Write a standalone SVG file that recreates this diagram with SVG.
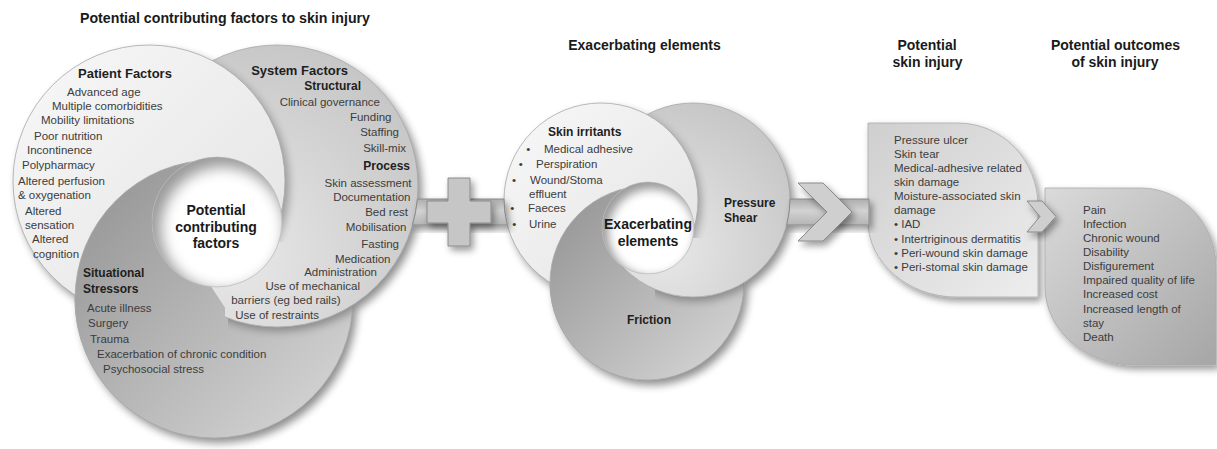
<svg xmlns="http://www.w3.org/2000/svg" width="1217" height="449" viewBox="0 0 1217 449">
<style>
text{font-family:"Liberation Sans",Arial,Helvetica,sans-serif;}
.t{font-size:11.5px;fill:#3c3c3c;}
.b{font-size:13px;font-weight:bold;fill:#1e1e1e;}
.s{font-size:12px;font-weight:bold;fill:#1e1e1e;}
.h{font-size:14px;font-weight:bold;fill:#1a1a1a;text-anchor:middle;}
.c{font-size:14px;font-weight:bold;fill:#1a1a1a;text-anchor:middle;}
.e{text-anchor:end;}
.m{text-anchor:middle;}
.ring{stroke:#a8a8a8;stroke-width:0.8;}
.leaf{stroke:#a9a9a9;stroke-width:0.8;}
.conn{stroke:#8a8a8a;stroke-width:1;}
.arcsh{fill:#000;opacity:0.3;}
</style>
<defs>
<filter id="sh" x="-20%" y="-20%" width="150%" height="150%"><feDropShadow dx="3" dy="4" stdDeviation="3.5" flood-color="#000" flood-opacity="0.4"/></filter>
<filter id="shOnly" x="-20%" y="-20%" width="150%" height="150%"><feGaussianBlur in="SourceAlpha" stdDeviation="4"/><feOffset dx="4" dy="5"/><feComponentTransfer><feFuncA type="linear" slope="0.45"/></feComponentTransfer></filter>
<filter id="soft" x="-20%" y="-20%" width="140%" height="140%"><feGaussianBlur stdDeviation="4"/></filter>
<filter id="blur" x="-30%" y="-30%" width="160%" height="160%"><feGaussianBlur stdDeviation="7"/></filter>
<filter id="blur2" x="-30%" y="-30%" width="160%" height="160%"><feGaussianBlur stdDeviation="5"/></filter>
<linearGradient id="gPat" x1="0" y1="0" x2="1" y2="1"><stop offset="0" stop-color="#f8f8f8"/><stop offset="1" stop-color="#e2e2e2"/></linearGradient>
<radialGradient id="gSys" cx="0.35" cy="0.75" r="0.8"><stop offset="0" stop-color="#e8e8e8"/><stop offset="1" stop-color="#c6c6c6"/></radialGradient>
<linearGradient id="gSit" x1="0.1" y1="0.1" x2="0.9" y2="0.9"><stop offset="0" stop-color="#989898"/><stop offset="1" stop-color="#d2d2d2"/></linearGradient>
<linearGradient id="gBand" gradientUnits="userSpaceOnUse" x1="0" y1="199" x2="0" y2="225"><stop offset="0" stop-color="#adadad"/><stop offset="0.45" stop-color="#d2d2d2"/><stop offset="1" stop-color="#b5b5b5"/></linearGradient>
<linearGradient id="gInj" x1="0" y1="0" x2="1" y2="1"><stop offset="0" stop-color="#cfcfcf"/><stop offset="1" stop-color="#ededed"/></linearGradient>
<linearGradient id="gOut" x1="0" y1="0" x2="1" y2="1"><stop offset="0" stop-color="#dadada"/><stop offset="1" stop-color="#a6a6a6"/></linearGradient>
<mask id="mA" maskUnits="userSpaceOnUse" x="0" y="0" width="1217" height="449"><rect x="0" y="0" width="225" height="449" fill="#fff"/></mask>
<mask id="mB" maskUnits="userSpaceOnUse" x="0" y="0" width="1217" height="449"><polygon points="187,250 440,250 440,449 318,449" fill="#fff"/></mask>
<mask id="mA2" maskUnits="userSpaceOnUse" x="0" y="0" width="1217" height="449"><rect x="400" y="0" width="252" height="449" fill="#fff"/></mask>
<mask id="mB2" maskUnits="userSpaceOnUse" x="0" y="0" width="1217" height="449"><polygon points="610,247 800,247 800,449 712,449" fill="#fff"/></mask>
<clipPath id="hL"><circle cx="217" cy="222" r="65"/></clipPath>
<clipPath id="hM"><circle cx="648" cy="228" r="46"/></clipPath>
<clipPath id="cSitL"><circle cx="214" cy="299" r="139"/></clipPath>
<clipPath id="cSysL"><circle cx="277" cy="186" r="141"/></clipPath>
<clipPath id="cTopL"><rect x="0" y="0" width="600" height="242"/></clipPath>
<clipPath id="cRightL"><rect x="228" y="0" width="400" height="449"/></clipPath>
<clipPath id="cFricM"><circle cx="647" cy="283" r="97"/></clipPath>
<clipPath id="cPresM"><circle cx="693" cy="200" r="97"/></clipPath>
<clipPath id="cTopM"><rect x="400" y="0" width="500" height="238"/></clipPath>
<clipPath id="cRightM"><rect x="655" y="0" width="300" height="449"/></clipPath>
</defs>
<rect x="0" y="0" width="1217" height="449" fill="#ffffff"/>

<text class="h" x="225" y="23" font-size="15" textLength="290" lengthAdjust="spacingAndGlyphs">Potential contributing factors to skin injury</text>
<text class="h" x="644.5" y="50">Exacerbating elements</text>
<text class="h" x="927" y="50">Potential</text>
<text class="h" x="927.5" y="67">skin injury</text>
<text class="h" x="1115.5" y="50">Potential outcomes</text>
<text class="h" x="1115" y="67">of skin injury</text>

<!-- left cluster -->
<g id="contributing-underlay">
<g filter="url(#shOnly)">
<circle cx="214" cy="299" r="139"/>
<circle cx="277" cy="186" r="141"/>
<circle cx="149" cy="181" r="136"/>
</g>
<circle class="ring" cx="214" cy="299" r="139" fill="url(#gSit)"/>
<g clip-path="url(#cSitL)"><g clip-path="url(#cRightL)"><circle class="arcsh" cx="280" cy="190" r="141" filter="url(#soft)"/></g></g>
<circle class="ring" cx="277" cy="186" r="141" fill="url(#gSys)"/>
<g clip-path="url(#cSysL)"><g clip-path="url(#cTopL)"><circle class="arcsh" cx="153" cy="186" r="136" filter="url(#soft)"/></g></g>
</g>
<g id="patient-factors">
<circle class="ring" cx="149" cy="181" r="136" fill="url(#gPat)"/>
<text class="b" x="78" y="78">Patient Factors</text>
<text class="t" x="67" y="96">Advanced age</text>
<text class="t" x="52" y="109.5">Multiple comorbidities</text>
<text class="t" x="41" y="123.5">Mobility limitations</text>
<text class="t" x="34" y="140">Poor nutrition</text>
<text class="t" x="27" y="154">Incontinence</text>
<text class="t" x="22" y="169">Polypharmacy</text>
<text class="t" x="18" y="185">Altered perfusion</text>
<text class="t" x="18" y="199">&amp; oxygenation</text>
<text class="t" x="25" y="215">Altered</text>
<text class="t" x="25" y="229">sensation</text>
<text class="t" x="32" y="243">Altered</text>
<text class="t" x="33" y="257.5">cognition</text>
</g>
<g id="situational-stressors">
<circle class="ring" cx="214" cy="299" r="139" fill="url(#gSit)" mask="url(#mA)"/>
<text class="s" x="83" y="277">Situational</text>
<text class="s" x="83" y="293">Stressors</text>
<text class="t" x="87" y="311.5">Acute illness</text>
<text class="t" x="88" y="327">Surgery</text>
<text class="t" x="90" y="342.5">Trauma</text>
<text class="t" x="97" y="357.5">Exacerbation of chronic condition</text>
<text class="t" x="103" y="372.5">Psychosocial stress</text>
</g>
<g id="system-factors">
<circle class="ring" cx="277" cy="186" r="141" fill="url(#gSys)" mask="url(#mB)"/>
<text class="b e" x="348" y="75">System Factors</text>
<text class="s e" x="361" y="90" font-size="12.5">Structural</text>
<text class="t e" x="380" y="106">Clinical governance</text>
<text class="t e" x="391.5" y="121">Funding</text>
<text class="t e" x="399" y="136">Staffing</text>
<text class="t e" x="406" y="151.5">Skill-mix</text>
<text class="s e" x="410" y="170" font-size="12.5">Process</text>
<text class="t e" x="411.5" y="187">Skin assessment</text>
<text class="t e" x="410.5" y="201">Documentation</text>
<text class="t e" x="408" y="216">Bed rest</text>
<text class="t e" x="406.5" y="231">Mobilisation</text>
<text class="t e" x="399" y="247.5">Fasting</text>
<text class="t e" x="390.5" y="262.5">Medication</text>
<text class="t e" x="377" y="276">Administration</text>
<text class="t e" x="360" y="290">Use of mechanical</text>
<text class="t e" x="340.5" y="304">barriers (eg bed rails)</text>
<text class="t e" x="319" y="319">Use of restraints</text>
</g>
<g id="potential-contributing-factors">
<circle cx="217" cy="222" r="65" fill="#ffffff"/>
<g clip-path="url(#hL)">
<rect x="140" y="145" width="160" height="160" fill="#9a9a9a"/>
<circle cx="223" cy="229" r="62" fill="#ffffff" filter="url(#blur)"/>
</g>
<circle cx="217" cy="222" r="65" fill="none" stroke="#b5b5b5" stroke-width="0.6"/>
<text class="c" x="216" y="215">Potential</text>
<text class="c" x="216" y="231.5">contributing</text>
<text class="c" x="216" y="248">factors</text>
</g>

<!-- middle cluster -->
<g id="exacerbating-underlay">
<g filter="url(#shOnly)">
<circle cx="647" cy="283" r="97"/>
<circle cx="693" cy="200" r="97"/>
<circle cx="601" cy="200" r="97"/>
</g>
<circle class="ring" cx="647" cy="283" r="97" fill="url(#gSit)"/>
<g clip-path="url(#cFricM)"><g clip-path="url(#cRightM)"><circle class="arcsh" cx="696" cy="204" r="97" filter="url(#soft)"/></g></g>
<circle class="ring" cx="693" cy="200" r="97" fill="url(#gSys)"/>
<g clip-path="url(#cPresM)"><g clip-path="url(#cTopM)"><circle class="arcsh" cx="604" cy="204" r="97" filter="url(#soft)"/></g></g>
</g>
<g id="skin-irritants">
<circle class="ring" cx="601" cy="200" r="97" fill="url(#gPat)"/>
<text class="s" x="548" y="135.5">Skin irritants</text>
<text class="t m" x="528.3" y="153">•</text>
<text class="t" x="544" y="153">Medical adhesive</text>
<text class="t m" x="520.7" y="167.5">•</text>
<text class="t" x="536" y="167.5">Perspiration</text>
<text class="t m" x="514" y="183.5">•</text>
<text class="t" x="530" y="183.5">Wound/Stoma</text>
<text class="t" x="529" y="198">effluent</text>
<text class="t m" x="512.3" y="212">•</text>
<text class="t" x="528" y="212">Faeces</text>
<text class="t m" x="514.3" y="227.5">•</text>
<text class="t" x="529" y="227.5">Urine</text>
</g>
<g id="friction">
<circle class="ring" cx="647" cy="283" r="97" fill="url(#gSit)" mask="url(#mA2)"/>
<text class="s" x="627" y="324">Friction</text>
</g>
<g id="pressure-shear">
<circle class="ring" cx="693" cy="200" r="97" fill="url(#gSys)" mask="url(#mB2)"/>
<text class="s" x="724" y="207" font-size="12.5">Pressure</text>
<text class="s" x="724" y="221.5" font-size="12.5">Shear</text>
</g>
<g id="exacerbating-elements">
<circle cx="648" cy="228" r="46" fill="#ffffff"/>
<g clip-path="url(#hM)">
<rect x="595" y="175" width="110" height="110" fill="#9a9a9a"/>
<circle cx="652" cy="233" r="44" fill="#ffffff" filter="url(#blur2)"/>
</g>
<circle cx="648" cy="228" r="46" fill="none" stroke="#b5b5b5" stroke-width="0.6"/>
<text class="c" x="648" y="229" font-size="13">Exacerbating</text>
<text class="c" x="648" y="245.5" font-size="13">elements</text>
</g>

<!-- right leaves -->
<g id="potential-skin-injury">
<path class="leaf" d="M868,123 H958 C1002,123 1038,160 1038,206 V297 H956 C908,297 868,262 868,222 Z" fill="url(#gInj)" filter="url(#sh)"/>
<text class="t" x="894" y="143.5">Pressure ulcer</text>
<text class="t" x="894" y="158">Skin tear</text>
<text class="t" x="894" y="172">Medical-adhesive related</text>
<text class="t" x="894" y="186">skin damage</text>
<text class="t" x="894" y="200">Moisture-associated skin</text>
<text class="t" x="894" y="214">damage</text>
<text class="t" x="894" y="228">• IAD</text>
<text class="t" x="894" y="242.5">• Intertriginous dermatitis</text>
<text class="t" x="894" y="257">• Peri-wound skin damage</text>
<text class="t" x="894" y="271">• Peri-stomal skin damage</text>
</g>
<g id="potential-outcomes">
<path class="leaf" d="M1045,188 H1141 C1183,188 1216,224 1216,268 V365 H1135 C1085,365 1045,330 1045,287 Z" fill="url(#gOut)" filter="url(#sh)"/>
<text class="t" x="1083" y="213.5">Pain</text>
<text class="t" x="1083" y="227.5">Infection</text>
<text class="t" x="1083" y="241.5">Chronic wound</text>
<text class="t" x="1083" y="256">Disability</text>
<text class="t" x="1083" y="270">Disfigurement</text>
<text class="t" x="1083" y="284">Impaired quality of life</text>
<text class="t" x="1083" y="298">Increased cost</text>
<text class="t" x="1083" y="312.5">Increased length of</text>
<text class="t" x="1083" y="326.5">stay</text>
<text class="t" x="1083" y="341">Death</text>
</g>

<!-- connectors -->
<g id="connectors">
<path class="conn" d="M417.4,199 H504 A97,97 0 0 0 507.3,225 H412.5 A141,141 0 0 0 417.4,199 Z" fill="url(#gBand)" filter="url(#sh)"/>
<path class="conn" d="M790,199 H869 V225 H786.7 A97,97 0 0 0 790,199 Z" fill="url(#gBand)" filter="url(#sh)"/>
<polygon class="conn" points="448,178 470,178 470,201 491,201 491,223 470,223 470,246 448,246 448,223 427,223 427,201 448,201" fill="#c6c6c6" filter="url(#sh)"/>
<polygon class="conn" points="798,183 823,183 852,212 823,241 798,241 827,212" fill="#cfcfcf" filter="url(#sh)"/>
<polygon class="conn" points="1027,201 1042,201 1056,216.5 1042,232 1027,232 1040,216.5" fill="#cfcfcf" filter="url(#sh)"/>
</g>
</svg>
